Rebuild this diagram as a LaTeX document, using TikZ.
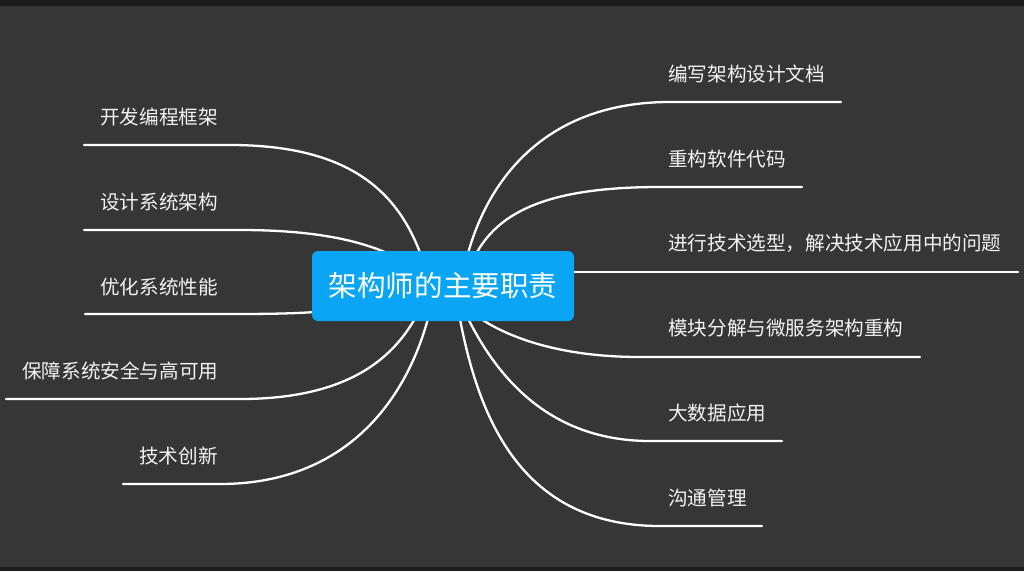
\documentclass[tikz,border=0pt]{standalone}
\usepackage{fontspec}
\setmainfont{Noto Sans CJK SC}
\definecolor{bgc}{HTML}{363636}
\definecolor{topicblue}{HTML}{0AA5F5}
\definecolor{stripc}{HTML}{1C1C1C}
\definecolor{txt}{HTML}{F2F2F2}
\begin{document}
\begin{tikzpicture}[x=1pt,y=-1pt,
  branch/.style={draw=white, line width=2.3pt, line cap=round},
  lbl/.style={text=txt, font=\fontsize{19.6}{21}\selectfont, inner sep=0pt, anchor=west},
  topic/.style={fill=topicblue, rounded corners=6pt, minimum width=262pt, minimum height=70pt,
                text=white, font=\fontsize{28.6}{31}\selectfont, inner sep=0pt}]
\useasboundingbox (0,0) rectangle (1024,571);
\fill[bgc] (0,0) rectangle (1024,571);
\fill[stripc] (0,0) rectangle (1024,6);
\fill[stripc] (0,567) rectangle (1024,571);

% hidden start points inside the central topic
\coordinate (r1s) at (461,286);
\coordinate (r2s) at (464,286);
\coordinate (r3s) at (443,272);
\coordinate (r4s) at (450,290);
\coordinate (r5s) at (455,290);
\coordinate (r6s) at (455,290);
\coordinate (l1s) at (430,286);
\coordinate (l2s) at (440,290);
\coordinate (l3s) at (440,286);
\coordinate (l4s) at (430,286);
\coordinate (l5s) at (435,286);

% joins and underline ends
\coordinate (r1j) at (670,102); \coordinate (r1e) at (841,102);
\coordinate (r2j) at (660,187); \coordinate (r2e) at (802,187);
\coordinate (r3e) at (1018,272);
\coordinate (r4j) at (640,357); \coordinate (r4e) at (920,357);
\coordinate (r5j) at (650,441); \coordinate (r5e) at (782,441);
\coordinate (r6j) at (660,526); \coordinate (r6e) at (762,526);
\coordinate (l1j) at (230,145); \coordinate (l1e) at (84,145);
\coordinate (l2j) at (240,230); \coordinate (l2e) at (84,230);
\coordinate (l3j) at (230,314); \coordinate (l3e) at (85,314);
\coordinate (l4j) at (240,399); \coordinate (l4e) at (6,399);
\coordinate (l5j) at (220,484); \coordinate (l5e) at (123,484);

% branches
\draw[branch] (r1s) .. controls (474,200) and (530,102) .. (r1j) -- (r1e);
\draw[branch] (r2s) .. controls (480,220) and (530,187) .. (r2j) -- (r2e);
\draw[branch] (r3s) -- (r3e);
\draw[branch] (r4s) .. controls (470,320) and (530,357) .. (r4j) -- (r4e);
\draw[branch] (r5s) .. controls (480,350) and (530,441) .. (r5j) -- (r5e);
\draw[branch] (r6s) .. controls (472,400) and (510,526) .. (r6j) -- (r6e);
\draw[branch] (l1s) .. controls (410,200) and (360,145) .. (l1j) -- (l1e);
\draw[branch] (l2s) .. controls (400,245) and (330,230) .. (l2j) -- (l2e);
\draw[branch] (l3s) .. controls (360,312) and (320,314) .. (l3j) -- (l3e);
\draw[branch] (l4s) .. controls (410,340) and (370,399) .. (l4j) -- (l4e);
\draw[branch] (l5s) .. controls (420,380) and (360,484) .. (l5j) -- (l5e);

% labels
\node[lbl] (r1) at (668,74) {编写架构设计文档};
\node[lbl] (r2) at (668,159) {重构软件代码};
\node[lbl] (r3) at (668,243) {进行技术选型，解决技术应用中的问题};
\node[lbl] (r4) at (668,328) {模块分解与微服务架构重构};
\node[lbl] (r5) at (668,413) {大数据应用};
\node[lbl] (r6) at (668,498) {沟通管理};
\node[lbl] (l1) at (100,117) {开发编程框架};
\node[lbl] (l2) at (100,202) {设计系统架构};
\node[lbl] (l3) at (100,287) {优化系统性能};
\node[lbl] (l4) at (22,371) {保障系统安全与高可用};
\node[lbl] (l5) at (139,456) {技术创新};

% central topic
\node[topic] (center) at (443,286) {架构师的主要职责};
\end{tikzpicture}
\end{document}
